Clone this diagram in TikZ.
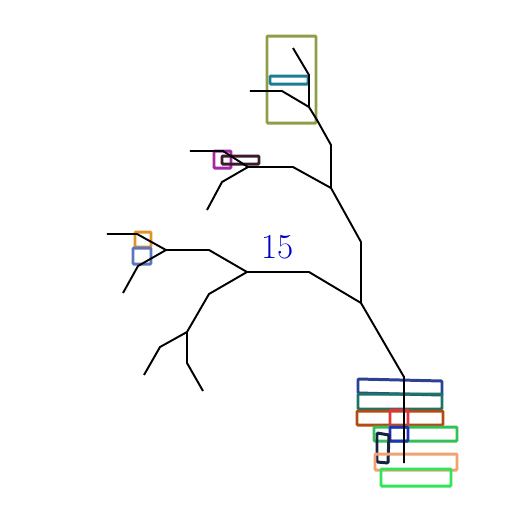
\documentclass[tikz,border=0pt]{standalone}
\usetikzlibrary{positioning}
\definecolor{boxolive}{HTML}{8E9E48}
\definecolor{boxteal}{HTML}{1E7C90}
\definecolor{boxmagenta}{HTML}{A626A8}
\definecolor{boxdark}{HTML}{3A1A2C}
\definecolor{boxorange}{HTML}{E0922E}
\definecolor{boxslate}{HTML}{5C76BC}
\definecolor{boxnavy}{HTML}{2C4094}
\definecolor{boxsea}{HTML}{1B7466}
\definecolor{boxbrown}{HTML}{B24C14}
\definecolor{boxred}{HTML}{E2343A}
\definecolor{boxgreen}{HTML}{34C058}
\definecolor{boxblue}{HTML}{2232B4}
\definecolor{boxink}{HTML}{122440}
\definecolor{boxpeach}{HTML}{F0A272}
\definecolor{boxlime}{HTML}{32E458}
\tikzset{branch/.style={black,line width=1.1pt},
  frame/.style={line width=1.7pt,rounded corners=0.6pt}}
\begin{document}
\begin{tikzpicture}[x=0.02cm,y=-0.02cm]
			\useasboundingbox (0,0) rectangle (512,512);
			% joints of the tree
			\coordinate (r0) at (404,463);
			\coordinate (r1) at (404,377);
			\coordinate (a) at (361,303);
			\coordinate (a1) at (361,242);
			\coordinate (b) at (331,188);
			\coordinate (b1) at (331,145);
			\coordinate (b2) at (317,120);
			\coordinate (c) at (309,107);
			\coordinate (c1) at (309,75);
			\coordinate (c2) at (293,48);
			\coordinate (c3) at (282,91);
			\coordinate (c4) at (250,91);
			\coordinate (b3) at (293,167);
			\coordinate (d) at (248,167);
			\coordinate (d1) at (223,151);
			\coordinate (d2) at (190,151);
			\coordinate (d3) at (222,182);
			\coordinate (d4) at (207,210);
			\coordinate (a2) at (309,272);
			\coordinate (e) at (247,272);
			\coordinate (e1) at (209,250);
			\coordinate (f) at (166,250);
			\coordinate (f1) at (137,234);
			\coordinate (f2) at (107,234);
			\coordinate (f3) at (138,266);
			\coordinate (f4) at (123,293);
			\coordinate (e2) at (209,294);
			\coordinate (g) at (187,332);
			\coordinate (g1) at (160,347);
			\coordinate (g2) at (144,375);
			\coordinate (g3) at (187,363);
			\coordinate (g4) at (203,391);
			% boxes
			\draw[frame,boxolive] (267,36) rectangle (316,123);
			\draw[frame,boxteal] (270,76) rectangle (308,84);
			\draw[frame,boxmagenta] (214,151) rectangle (231,168);
			\draw[frame,boxdark] (222,156) rectangle (259,164);
			\draw[frame,boxorange] (135,232) rectangle (151,247);
			\draw[frame,boxslate] (133,248) rectangle (151,264);
			\draw[frame,boxnavy] (358,379) -- (442,381) -- (442,395) -- (358,393) -- cycle;
			\draw[frame,boxsea] (358,394) rectangle (442,409);
			\draw[frame,boxbrown] (357,411) rectangle (443,425);
			\draw[frame,boxred] (390,410) rectangle (408,426);
			\draw[frame,boxgreen] (374,427) rectangle (457,441);
			\draw[frame,boxblue] (390,427) rectangle (408,441);
			\draw[frame,boxink] (377,433) -- (389,435) -- (388,463) -- (377,462) -- cycle;
			\draw[frame,boxpeach] (375,454) rectangle (457,470);
			\draw[frame,boxlime] (381,469) rectangle (451,486);
			% branches
			\draw[branch] (r0) -- (r1) -- (a) -- (a1) -- (b) -- (b1) -- (b2) -- (c) -- (c1) -- (c2);
			\draw[branch] (c) -- (c3) -- (c4);
			\draw[branch] (b) -- (b3) -- (d) -- (d1) -- (d2);
			\draw[branch] (d) -- (d3) -- (d4);
			\draw[branch] (a) -- (a2) -- (e) -- (e1) -- (f) -- (f1) -- (f2);
			\draw[branch] (f) -- (f3) -- (f4);
			\draw[branch] (e) -- (e2) -- (g) -- (g1) -- (g2);
			\draw[branch] (g) -- (g3) -- (g4);
			\node[blue!80!black,font=\fontsize{20}{24}\selectfont] (count) at (278,247) {15};
		\end{tikzpicture}
\end{document}
